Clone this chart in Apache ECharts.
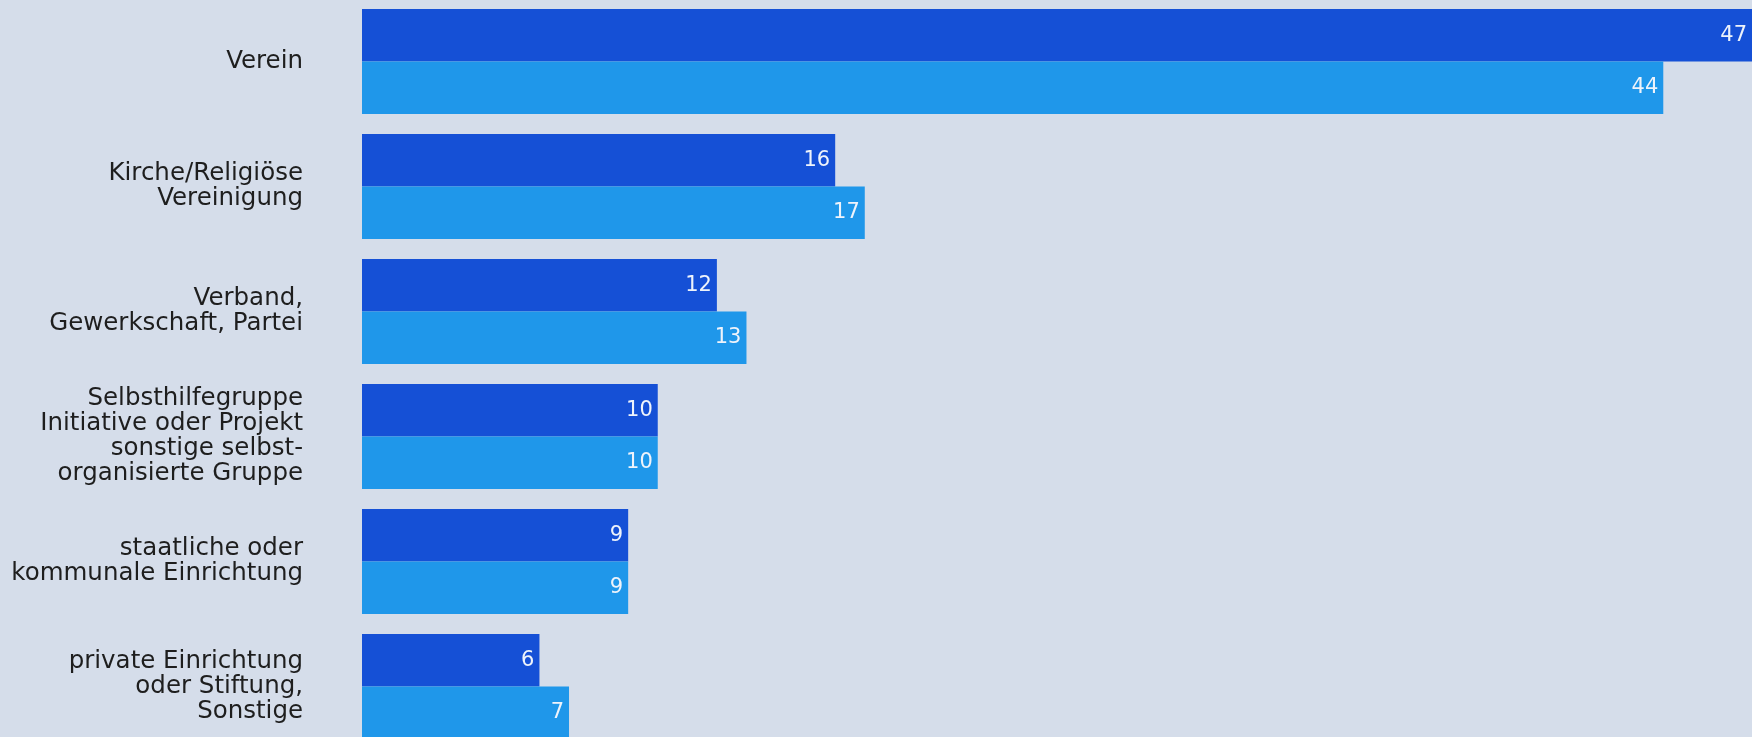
<!DOCTYPE html>
<html>
<head>
<meta charset="utf-8">
<script src="https://cdn.jsdelivr.net/npm/echarts@6/dist/echarts.min.js"></script>
<style>
html,body{margin:0;padding:0;background:#d5ddea;}
#chart{width:1752px;height:737px;}
</style>
</head>
<body>
<div id="chart"></div>
<script>
const categories = [
  'Verein',
  'Kirche/Religiöse\nVereinigung',
  'Verband,\nGewerkschaft, Partei',
  'Selbsthilfegruppe\nInitiative oder Projekt\nsonstige selbst-\norganisierte Gruppe',
  'staatliche oder\nkommunale Einrichtung',
  'private Einrichtung\noder Stiftung,\nSonstige'
];
const seriesA = [47, 16, 12, 10, 9, 6];
const seriesB = [44, 17, 13, 10, 9, 7];

const chart = echarts.init(document.getElementById('chart'), null, {renderer: 'canvas'});
const valueLabel = {
  show: true,
  position: 'insideRight',
  distance: 5,
  color: '#eef3fb',
  fontFamily: 'DejaVu Sans',
  fontSize: 21
};
chart.setOption({
  backgroundColor: '#d5ddea',
  animation: false,
  grid: {left: 362, right: 0, top: -1, height: 750, containLabel: false, outerBoundsMode: 'none'},
  xAxis: {
    type: 'value', min: 0, max: 47,
    show: false
  },
  yAxis: {
    type: 'category',
    inverse: true,
    data: categories,
    axisLine: {show: false},
    axisTick: {show: false},
    splitLine: {show: false},
    axisLabel: {
      margin: 59,
      color: '#1e1e1e',
      fontFamily: 'DejaVu Sans',
      fontSize: 24.5,
      lineHeight: 25,
      align: 'right'
    }
  },
  series: [
    {type: 'bar', data: seriesA, barWidth: 52.5, barGap: '0%', itemStyle: {color: '#1550d6'}, label: valueLabel},
    {type: 'bar', data: seriesB, barWidth: 52.5, barGap: '0%', itemStyle: {color: '#1f97ea'}, label: valueLabel}
  ]
});
</script>
</body>
</html>
